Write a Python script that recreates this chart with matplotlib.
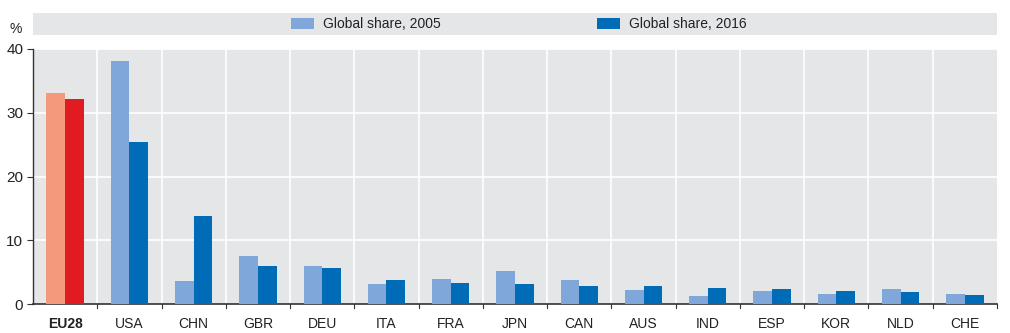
import matplotlib
matplotlib.use("Agg")
import matplotlib.pyplot as plt
from matplotlib.patches import Rectangle
import numpy as np

categories = ["EU28", "USA", "CHN", "GBR", "DEU", "ITA", "FRA", "JPN", "CAN", "AUS",
              "IND", "ESP", "KOR", "NLD", "CHE"]
share_2005 = [33.1, 38.1, 3.6, 7.5, 6.0, 3.1, 3.9, 5.1, 3.8, 2.2, 1.2, 2.0, 1.6, 2.3, 1.5]
share_2016 = [32.2, 25.4, 13.8, 6.0, 5.6, 3.8, 3.3, 3.2, 2.9, 2.9, 2.5, 2.3, 2.1, 1.9, 1.4]
yticks = [0, 10, 20, 30, 40]

plt.rcParams['font.family'] = ['Liberation Sans', 'DejaVu Sans']
FS = 10

W, H = 1010, 333
fig = plt.figure(figsize=(W / 100, H / 100), dpi=100)
ax = fig.add_axes([33 / W, 29 / H, (997 - 33) / W, (304 - 49) / H])
ax.set_facecolor("#E5E6E8")

c05 = "#7FA7D9"
c16 = "#006BB6"
e05 = "#F4997B"
e16 = "#E01B22"

x = np.arange(len(categories))
bw = 0.29
cols05 = [e05 if c == "EU28" else c05 for c in categories]
cols16 = [e16 if c == "EU28" else c16 for c in categories]
ax.bar(x - bw / 2, share_2005, bw, color=cols05, zorder=3)
ax.bar(x + bw / 2, share_2016, bw, color=cols16, zorder=3)

ax.set_xlim(-0.5, len(categories) - 0.5)
ax.set_ylim(0, 40)
ax.set_yticks(yticks)
ax.set_yticklabels([str(v) for v in yticks], fontsize=FS + 1, color="#222222")
ax.set_xticks(x)
ax.set_xticklabels(categories, fontsize=FS, color="#222222")
ax.get_xticklabels()[0].set_fontweight("bold")
ax.tick_params(axis="x", length=0, pad=9)
ax.tick_params(axis="y", length=4, width=0.8, color="#333333", pad=3)

# vertical grid at category boundaries
for b in np.arange(0.5, len(categories) - 0.5, 1):
    ax.axvline(b, color="white", lw=1.2, zorder=1)
    ax.plot([b, b], [0, -0.6], color="#333333", lw=0.8, clip_on=False, zorder=4)
ax.plot([len(categories) - 0.5] * 2, [0, -0.6], color="#333333", lw=0.8, clip_on=False, zorder=4)
for v in yticks[1:]:
    ax.axhline(v, color="white", lw=1.2, zorder=1)

for s in ["top", "right"]:
    ax.spines[s].set_visible(False)
ax.spines["left"].set_color("#333333")
ax.spines["bottom"].set_color("#333333")
ax.spines["left"].set_linewidth(1.0)
ax.spines["bottom"].set_linewidth(1.2)

# legend band
fig.patches.append(Rectangle((33 / W, (H - 35) / H), (997 - 33) / W, 22 / H,
                             transform=fig.transFigure, facecolor="#E5E6E8",
                             edgecolor="none", zorder=0))
for px, col, lab in [(291, c05, "Global share, 2005"), (597, c16, "Global share, 2016")]:
    fig.patches.append(Rectangle((px / W, (H - 29) / H), 23 / W, 11 / H,
                                 transform=fig.transFigure, facecolor=col,
                                 edgecolor="none", zorder=1))
    fig.text((px + 32) / W, (H - 24) / H, lab, fontsize=FS, va="center",
             ha="left", color="#222222")

fig.text(10 / W, (H - 29) / H, "%", fontsize=FS, va="center", ha="left", color="#222222")

fig.savefig("out.png", dpi=100, facecolor="white")
